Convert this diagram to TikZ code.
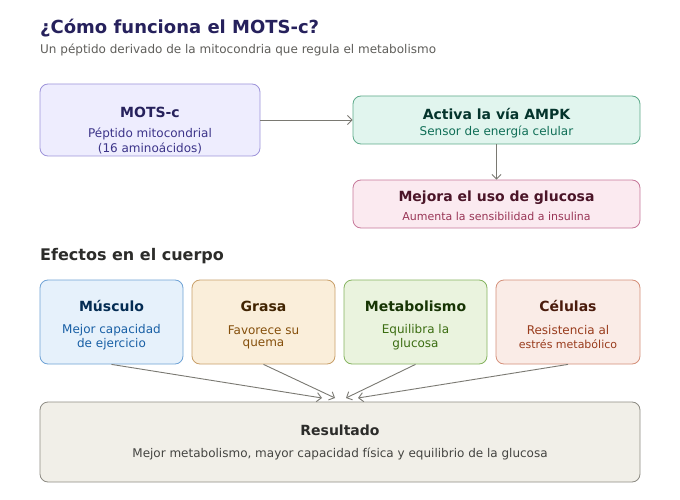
\documentclass[tikz,border=0pt]{standalone}
\usepackage{fontspec}
\setmainfont{DejaVu Sans}
\usetikzlibrary{arrows.meta}
\definecolor{ttl}{HTML}{26215C}
\definecolor{subg}{HTML}{5F5E5A}
\definecolor{arr}{HTML}{7A7972}
\definecolor{lavF}{HTML}{EEEDFE}\definecolor{lavB}{HTML}{9E94DA}\definecolor{lavT}{HTML}{26215C}\definecolor{lavS}{HTML}{3C3489}
\definecolor{grnF}{HTML}{E1F5EE}\definecolor{grnB}{HTML}{5DAA8A}\definecolor{grnT}{HTML}{04342C}\definecolor{grnS}{HTML}{0F6E56}
\definecolor{pnkF}{HTML}{FBEAF0}\definecolor{pnkB}{HTML}{C7789A}\definecolor{pnkT}{HTML}{4B1528}\definecolor{pnkS}{HTML}{993556}
\definecolor{bluF}{HTML}{E6F1FB}\definecolor{bluB}{HTML}{6FA3D6}\definecolor{bluT}{HTML}{042C53}\definecolor{bluS}{HTML}{185FA5}
\definecolor{ambF}{HTML}{FAEEDA}\definecolor{ambB}{HTML}{C9A06A}\definecolor{ambT}{HTML}{412402}\definecolor{ambS}{HTML}{854F0B}
\definecolor{ltgF}{HTML}{EAF3DE}\definecolor{ltgB}{HTML}{86B460}\definecolor{ltgT}{HTML}{173404}\definecolor{ltgS}{HTML}{3B6D11}
\definecolor{corF}{HTML}{FAECE7}\definecolor{corB}{HTML}{D5907A}\definecolor{corT}{HTML}{4A1B0C}\definecolor{corS}{HTML}{993C1D}
\definecolor{gryF}{HTML}{F1EFE8}\definecolor{gryB}{HTML}{8E8C84}\definecolor{gryT}{HTML}{2C2C2A}\definecolor{gryS}{HTML}{444441}
\tikzset{
  box/.style n args={2}{draw=#2, fill=#1, line width=0.8pt, rounded corners=8pt, inner sep=0pt},
  ttlt/.style={font=\bfseries\fontsize{14}{17}\selectfont, inner sep=0pt, anchor=center},
  subt/.style={font=\fontsize{12}{14}\selectfont, inner sep=0pt, anchor=center},
  subsm/.style={font=\fontsize{11}{13}\selectfont, inner sep=0pt, anchor=center},
  conn/.style={draw=arr, line width=0.9pt, -{Straight Barb[length=4.5pt,width=9pt]}}
}
\begin{document}
\begin{tikzpicture}[x=1pt,y=-1pt]
\useasboundingbox[fill=white] (0,0) rectangle (680,500);
% header
\node[anchor=west, inner sep=0pt, text=ttl, font=\bfseries\fontsize{18}{22}\selectfont] (title) at (40,28) {¿Cómo funciona el MOTS-c?};
\node[anchor=west, inner sep=0pt, text=subg, font=\fontsize{12}{15}\selectfont] (subtitle) at (40,50) {Un péptido derivado de la mitocondria que regula el metabolismo};
% top boxes
\node[box={lavF}{lavB}, minimum width=220, minimum height=72] (mots) at (150,120) {};
\node[ttlt, text=lavT] (motsT) at (150,112) {MOTS-c};
\node[subt, text=lavS] (motsS1) at (150,134) {Péptido mitocondrial};
\node[subt, text=lavS] (motsS2) at (150,148) {(16 aminoácidos)};
\node[box={grnF}{grnB}, minimum width=287, minimum height=48] (ampk) at (496.5,120) {};
\node[ttlt, text=grnT] (ampkT) at (496.5,114) {Activa la vía AMPK};
\node[subt, text=grnS] (ampkS) at (496.5,132) {Sensor de energía celular};
\node[box={pnkF}{pnkB}, minimum width=287, minimum height=48] (glu) at (496.5,204) {};
\node[ttlt, text=pnkT] (gluT) at (496.5,198) {Mejora el uso de glucosa};
\node[subsm, text=pnkS] (gluS) at (496.5,216) {Aumenta la sensibilidad a insulina};
\draw[conn] (mots.east) -- (ampk.west);
\draw[conn] (ampk.south) -- (glu.north);
% section
\node[anchor=west, inner sep=0pt, text=gryT, font=\bfseries\fontsize{16}{19}\selectfont] (efectos) at (40,256) {Efectos en el cuerpo};
% effect boxes
\node[box={bluF}{bluB}, minimum width=143, minimum height=84] (mus) at (111.5,322) {};
\node[ttlt, text=bluT] (musT) at (111.5,306) {Músculo};
\node[subt, text=bluS] (musS1) at (111.5,330) {Mejor capacidad};
\node[subt, text=bluS] (musS2) at (111.5,344) {de ejercicio};
\node[box={ambF}{ambB}, minimum width=143, minimum height=84] (gra) at (263.5,322) {};
\node[ttlt, text=ambT] (graT) at (263.5,306) {Grasa};
\node[subt, text=ambS] (graS1) at (263.5,330) {Favorece su};
\node[subt, text=ambS] (graS2) at (263.5,344) {quema};
\node[box={ltgF}{ltgB}, minimum width=143, minimum height=84] (met) at (415.5,322) {};
\node[ttlt, text=ltgT] (metT) at (415.5,306) {Metabolismo};
\node[subt, text=ltgS] (metS1) at (415.5,330) {Equilibra la};
\node[subt, text=ltgS] (metS2) at (415.5,344) {glucosa};
\node[box={corF}{corB}, minimum width=144, minimum height=84] (cel) at (568,322) {};
\node[ttlt, text=corT] (celT) at (568,306) {Células};
\node[subt, text=corS] (celS1) at (568,330) {Resistencia al};
\node[subsm, text=corS] (celS2) at (568,344) {estrés metabólico};
% result
\node[box={gryF}{gryB}, minimum width=600, minimum height=80] (res) at (340,442) {};
\node[ttlt, text=gryT] (resT) at (340,430) {Resultado};
\node[subt, text=gryS] (resS) at (340,454) {Mejor metabolismo, mayor capacidad física y equilibrio de la glucosa};
\coordinate (e1) at (322,398);
\coordinate (e2) at (335,398);
\coordinate (e3) at (346,398);
\coordinate (e4) at (358,398);
\draw[conn] (mus.south) -- (e1);
\draw[conn] (gra.south) -- (e2);
\draw[conn] (met.south) -- (e3);
\draw[conn] (cel.south) -- (e4);
\end{tikzpicture}
\end{document}
